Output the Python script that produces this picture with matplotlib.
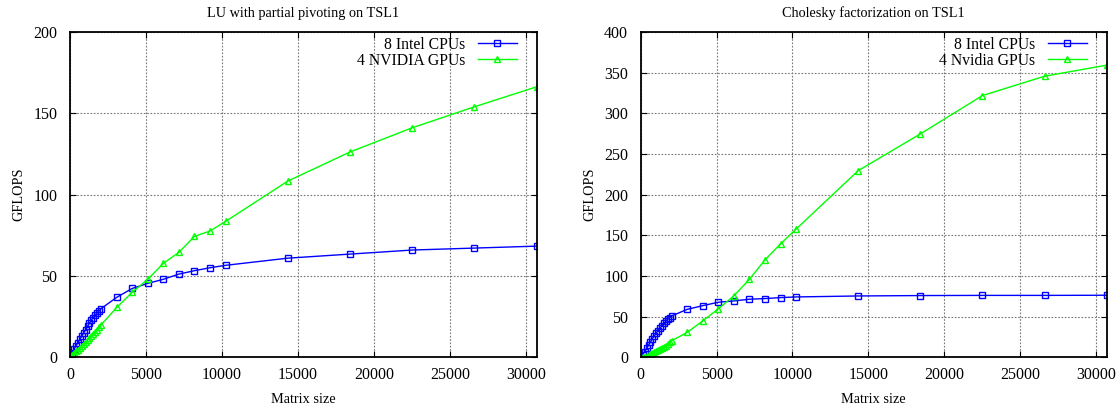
import matplotlib
matplotlib.use("Agg")
import matplotlib.pyplot as plt

plt.rcParams['font.family'] = ['Liberation Serif', 'DejaVu Serif']
plt.rcParams['font.size'] = 11.5

# matrix sizes (same for every run)
sizes = [128, 256, 384, 512, 640, 768, 896, 1024, 1152, 1280, 1408, 1536,
         1664, 1792, 1920, 2048, 3072, 4096, 5120, 6144, 7168, 8192, 9216,
         10240, 14336, 18432, 22528, 26624, 30720]

# LU with partial pivoting
lu_cpu = [2.5, 5.0, 7.0, 9.0, 11.0, 13.0, 15.0, 17.0, 19.0, 21.0, 23.0, 24.5,
          26.0, 27.5, 28.8, 30.0, 36.9, 42.4, 45.5, 48.0, 51.2, 53.3, 55.1,
          56.6, 61.0, 63.5, 66.0, 67.2, 68.4]
lu_gpu = [1.2, 2.4, 3.6, 4.8, 6.0, 7.2, 8.4, 9.6, 10.8, 12.0, 13.2, 14.4,
          15.8, 17.0, 18.5, 20.0, 30.7, 40.0, 48.0, 57.8, 64.6, 74.4, 77.7,
          83.6, 108.4, 126.3, 141.2, 154.1, 166.4]

# Cholesky factorization
chol_cpu = [3.0, 7.0, 11.0, 15.0, 19.0, 23.0, 26.5, 30.0, 33.0, 36.0, 39.0,
            42.0, 44.5, 47.0, 49.0, 51.0, 59.1, 63.6, 67.8, 69.4, 71.5, 72.3,
            73.5, 74.3, 75.5, 76.0, 76.2, 76.2, 76.4]
chol_gpu = [0.3, 1.0, 1.8, 2.7, 3.7, 4.8, 6.0, 7.2, 8.5, 10.0, 11.5, 13.0,
            14.5, 16.5, 18.5, 20.5, 30.8, 44.9, 59.7, 75.7, 96.1, 119.9, 139.6,
            157.7, 229.6, 274.8, 322.0, 345.8, 359.4]

xticks = [0, 5000, 10000, 15000, 20000, 25000, 30000]


def draw(ax, title, cpu, gpu, gpu_label, ymax):
    ax.plot(sizes, cpu, color='#0000ff', lw=1.0, marker='s', ms=4.5,
            mfc='none', mew=1.0, label='8 Intel CPUs')
    ax.plot(sizes, gpu, color='#00ff00', lw=1.0, marker='^', ms=5,
            mfc='none', mew=1.0, label=gpu_label)
    ax.set_xlim(0, 30720)
    ax.set_ylim(0, ymax)
    ax.set_xticks(xticks)
    ax.set_yticks(range(0, ymax + 1, 50))
    ax.grid(True, color='#777777', ls=(0, (1.5, 1.5)), lw=0.8)
    ax.tick_params(direction='in', top=True, right=True, length=4)
    ax.tick_params(axis='x', pad=7)
    ax.tick_params(axis='y', pad=9)
    for s in ax.spines.values():
        s.set_linewidth(1.3)
    ax.set_title(title, fontsize=10.3, pad=11)
    ax.set_xlabel('Matrix size', fontsize=10.3, labelpad=7)
    ax.set_ylabel('GFLOPS', fontsize=10.3, labelpad=6)
    ax.legend(loc='upper right', frameon=False, markerfirst=False,
              handlelength=2.5, borderaxespad=0.2, borderpad=0.1,
              labelspacing=0.0, handletextpad=0.8, fontsize=11.3,
              bbox_to_anchor=(0.968, 1.0))


fig = plt.figure(figsize=(11.19, 4.07), dpi=100)
ax1 = fig.add_axes([0.0626, 0.122, 0.417, 0.799])
ax2 = fig.add_axes([0.5726, 0.122, 0.4164, 0.799])

draw(ax1, 'LU with partial pivoting on TSL1', lu_cpu, lu_gpu, '4 NVIDIA GPUs', 200)
draw(ax2, 'Cholesky factorization on TSL1', chol_cpu, chol_gpu, '4 Nvidia GPUs', 400)

fig.savefig('out.png', dpi=100)
